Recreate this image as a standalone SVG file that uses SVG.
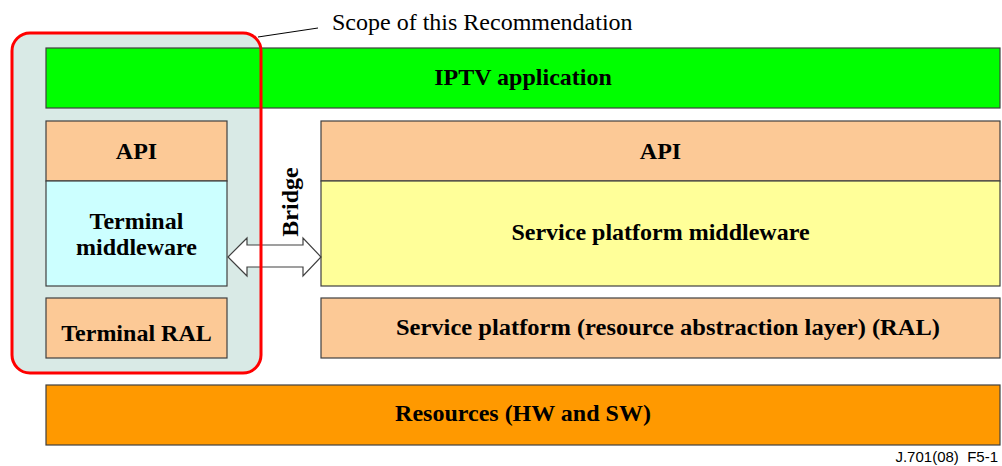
<svg xmlns="http://www.w3.org/2000/svg" width="1002" height="466" viewBox="0 0 1002 466">
  <style>
    .box { stroke: #404040; stroke-width: 1.2; }
    .lbl { font-family: "Liberation Serif", "Times New Roman", serif; font-weight: bold; font-size: 24px; fill: #000; text-anchor: middle; }
    .note { font-family: "Liberation Serif", "Times New Roman", serif; font-size: 24px; fill: #000; }
    .tag { font-family: "Liberation Sans", Arial, sans-serif; font-size: 15px; fill: #000; text-anchor: end; }
  </style>
  <rect width="1002" height="466" fill="#fff"/>

  <!-- scope area background -->
  <g id="scope-bg">
    <rect x="12" y="33" width="249" height="340" rx="18" ry="18" fill="#d9eae6"/>
  </g>

  <g id="iptv-app">
    <rect class="box" x="46" y="48" width="954" height="60" fill="#00ff00"/>
    <text class="lbl" x="523" y="85">IPTV application</text>
  </g>

  <g id="terminal-api">
    <rect class="box" x="46" y="121" width="181" height="60" fill="#fcc996"/>
    <text class="lbl" x="136.5" y="159">API</text>
  </g>

  <g id="terminal-middleware">
    <rect class="box" x="46" y="181" width="181" height="105" fill="#ccffff"/>
    <text class="lbl" x="136.5" y="229">Terminal</text>
    <text class="lbl" x="136.5" y="255">middleware</text>
  </g>

  <g id="terminal-ral">
    <rect class="box" x="46" y="298" width="181" height="60" fill="#fcc996"/>
    <text class="lbl" x="136.5" y="341">Terminal RAL</text>
  </g>

  <g id="sp-api">
    <rect class="box" x="321" y="121" width="679" height="60" fill="#fcc996"/>
    <text class="lbl" x="660.5" y="159">API</text>
  </g>

  <g id="sp-middleware">
    <rect class="box" x="321" y="181" width="679" height="105" fill="#ffff99"/>
    <text class="lbl" x="660.5" y="240">Service platform middleware</text>
  </g>

  <g id="sp-ral">
    <rect class="box" x="321" y="298" width="679" height="60" fill="#fcc996"/>
    <text class="lbl" x="668" y="335" textLength="544" lengthAdjust="spacingAndGlyphs">Service platform (resource abstraction layer) (RAL)</text>
  </g>

  <g id="resources">
    <rect class="box" x="46" y="385" width="954" height="60" fill="#ff9900"/>
    <text class="lbl" x="523" y="421">Resources (HW and SW)</text>
  </g>

  <!-- connectors -->
  <g id="connectors">
    <!-- bridge double arrow -->
    <path d="M228,257 L247,238 L247,245 L303,245 L303,238 L321,257 L303,276 L303,267 L247,267 L247,276 Z" fill="#fff" stroke="#404040" stroke-width="1.2"/>
    <text class="lbl" transform="translate(298,202) rotate(-90)">Bridge</text>
    <!-- scope callout leader -->
    <line x1="258" y1="37" x2="318" y2="28" stroke="#000" stroke-width="1"/>
  </g>

  <!-- scope outline drawn over the boxes -->
  <g id="scope">
    <rect x="12" y="33" width="249" height="340" rx="18" ry="18" fill="none" stroke="#ff0000" stroke-width="3"/>
    <text class="note" x="332" y="30">Scope of this Recommendation</text>
  </g>

  <g id="figure-tag">
    <text class="tag" x="998" y="462" xml:space="preserve">J.701(08)  F5-1</text>
  </g>
</svg>
